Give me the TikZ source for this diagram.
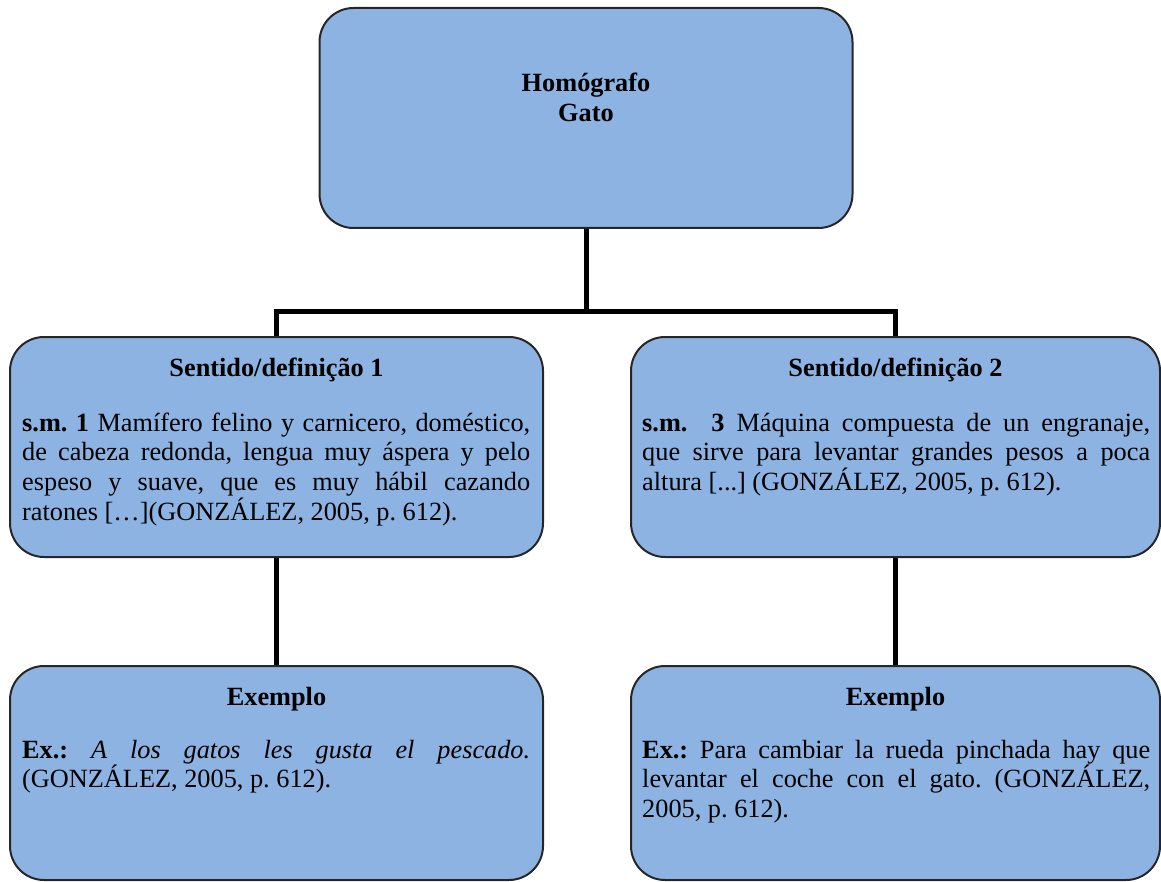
\documentclass[tikz,border=0pt]{standalone}
\usepackage{fontspec}
\setmainfont{Liberation Serif}
\frenchspacing
\definecolor{boxblue}{HTML}{8DB3E2}
% justified body paragraph, first baseline at the node's base
\newcommand{\bodypar}[1]{\parbox[t]{508pt}{\tolerance=10000 \hyphenpenalty=10000
  \frenchspacing\fontsize{26.3}{29.8}\selectfont #1}}
\begin{document}
\begin{tikzpicture}[x=1pt,y=-1pt,
  box/.style={draw=black!85, line width=2pt, fill=boxblue,
    rounded corners=34pt, inner sep=0pt, minimum height=220pt},
  wide/.style={minimum width=533pt},
  narrow/.style={minimum width=529pt},
  head/.style={inner sep=0pt, anchor=base, font=\fontsize{26.3}{29.8}\selectfont\bfseries},
  body/.style={inner sep=0pt, anchor=base west},
  link/.style={line width=5pt, draw=black, line join=miter}]
\useasboundingbox (0,0) rectangle (1161,882);

% boxes
\node[box, wide] (top) at (586,118) {};
\node[box, wide] (s1) at (276.5,447) {};
\node[box, narrow] (s2) at (895.5,447) {};
\node[box, wide, minimum height=214pt] (e1) at (276.5,773) {};
\node[box, narrow, minimum height=214pt] (e2) at (895.5,773) {};

% connectors
\coordinate (hub) at (586,312);
\draw[link] (top.south) -- (hub);
\draw[link] (s1.north) |- (hub) -| (s2.north);
\draw[link] (s1.south) -- (e1.north);
\draw[link] (s2.south) -- (e2.north);

% title
\node[inner sep=0pt, anchor=base, font=\fontsize{26.3}{29.8}\selectfont\bfseries] (toptxt) at (586,92)
  {\parbox[t]{300pt}{\centering Homógrafo\\Gato}};

% sense 1
\node[head] (s1h) at (276.5,376) {Sentido/definição 1};
\node[body] (s1b) at (22,431) {\bodypar{\textbf{s.m. 1} Mamífero felino y carnicero, doméstico,\linebreak
  de cabeza redonda, lengua muy áspera y pelo\linebreak
  espeso y suave, que es muy hábil cazando\linebreak
  ratones […](GONZÁLEZ, 2005, p. 612).}};

% sense 2
\node[head] (s2h) at (895.5,376) {Sentido/definição 2};
\node[body] (s2b) at (642,431) {\bodypar{\textbf{s.m.}\ \ \textbf{3} Máquina compuesta de un engranaje,\linebreak
  que sirve para levantar grandes pesos a poca\linebreak
  altura [...] (GONZÁLEZ, 2005, p. 612).}};

% example 1
\node[head] (e1h) at (276.5,705) {Exemplo};
\node[body] (e1b) at (22,758) {\bodypar{\textbf{Ex.:} \textit{A los gatos les gusta el pescado.}\linebreak
  (GONZÁLEZ, 2005, p. 612).}};

% example 2
\node[head] (e2h) at (895.5,705) {Exemplo};
\node[body] (e2b) at (642,758) {\bodypar{\textbf{Ex.:} Para cambiar la rueda pinchada hay que\linebreak
  levantar el coche con el gato. (GONZÁLEZ,\linebreak
  2005, p. 612).}};
\end{tikzpicture}
\end{document}
